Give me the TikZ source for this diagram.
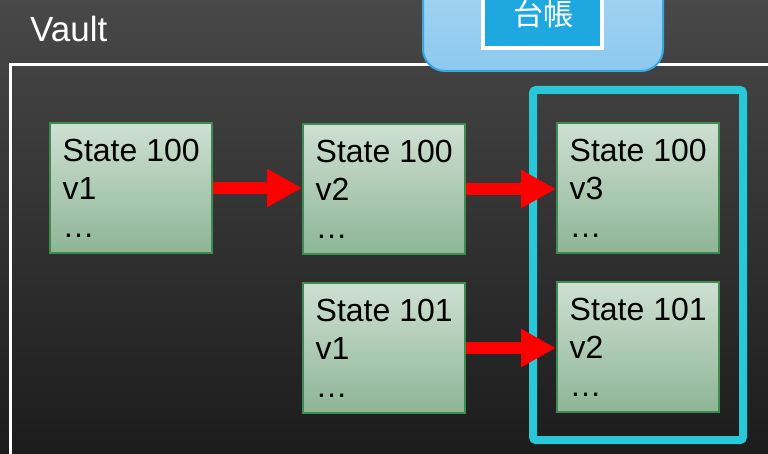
\documentclass[tikz,border=0pt]{standalone}
\usepackage{fontspec}
\setmainfont{Liberation Sans}
\newfontfamily\cjk{Noto Sans CJK JP}
\usetikzlibrary{arrows.meta}
\definecolor{bgtop}{HTML}{484848}
\definecolor{bgbot}{HTML}{1C1C1C}
\definecolor{gtop}{HTML}{CFE0D2}
\definecolor{gbot}{HTML}{8DB596}
\definecolor{gline}{HTML}{3D8B50}
\definecolor{cyanline}{HTML}{28C8D8}
\definecolor{calltop}{HTML}{AAD6F3}
\definecolor{callbot}{HTML}{8CC9EF}
\definecolor{callline}{HTML}{3AA6DC}
\definecolor{tagfill}{HTML}{1FA8E0}
\tikzset{
  statebox/.style={draw=gline, line width=2pt, top color=gtop, bottom color=gbot,
    minimum width=162pt, minimum height=130pt, inner sep=0pt},
  statetext/.style={anchor=north west, inner sep=0pt, align=left, text=black,
    font=\fontsize{32}{38}\selectfont},
  redarrow/.style={draw=red, line width=12pt,
    -{Triangle[length=35pt,width=36pt]}, fill=red},
}
\begin{document}
\begin{tikzpicture}[x=1pt,y=-1pt]
\useasboundingbox (0,0) rectangle (768,454);
\clip (0,0) rectangle (768,454);
% background
\shade[top color=bgtop, bottom color=bgbot] (0,0) rectangle (768,454);
% vault frame
\draw[white, line width=3pt] (10.5,65) rectangle (820,520);
\node[anchor=base west, inner sep=0pt, text=white, font=\fontsize{35}{40}\selectfont] (vault) at (30,42) {Vault};
% callout
\draw[callline, line width=2pt, top color=calltop, bottom color=callbot, rounded corners=22pt]
  (423,-40) rectangle (663,71);
\node[draw=white, line width=4pt, fill=tagfill, minimum width=119pt, minimum height=70pt,
  inner sep=0pt] (tag) at (542.5,13) {};
\node[text=white, font=\cjk\fontsize{30}{34}\selectfont, inner sep=0pt] (tagtext) at (543,14) {台帳};
% ledger highlight
\draw[cyanline, line width=8pt, rounded corners=3pt] (533,90) rectangle (743,440);
% state boxes
\node[statebox] (b1) at (131,188) {};
\node[statebox] (b2) at (384,189) {};
\node[statebox] (b3) at (638,188) {};
\node[statebox] (c1) at (384,348) {};
\node[statebox] (c2) at (638,347) {};
\node[statetext] (t1) at ([shift={(13.5,17)}]b1.north west) {State 100\\v1\\…};
\node[statetext] (t2) at ([shift={(13.5,17)}]b2.north west) {State 100\\v2\\…};
\node[statetext] (t3) at ([shift={(13.5,17)}]b3.north west) {State 100\\v3\\…};
\node[statetext] (t4) at ([shift={(13.5,17)}]c1.north west) {State 101\\v1\\…};
\node[statetext] (t5) at ([shift={(13.5,17)}]c2.north west) {State 101\\v2\\…};
% arrows
\draw[redarrow] (b1.east) -- (b2.west |- b1.east);
\draw[redarrow] (b2.east) -- (b3.west |- b2.east);
\draw[redarrow] (c1.east) -- (c2.west |- c1.east);
\end{tikzpicture}
\end{document}
